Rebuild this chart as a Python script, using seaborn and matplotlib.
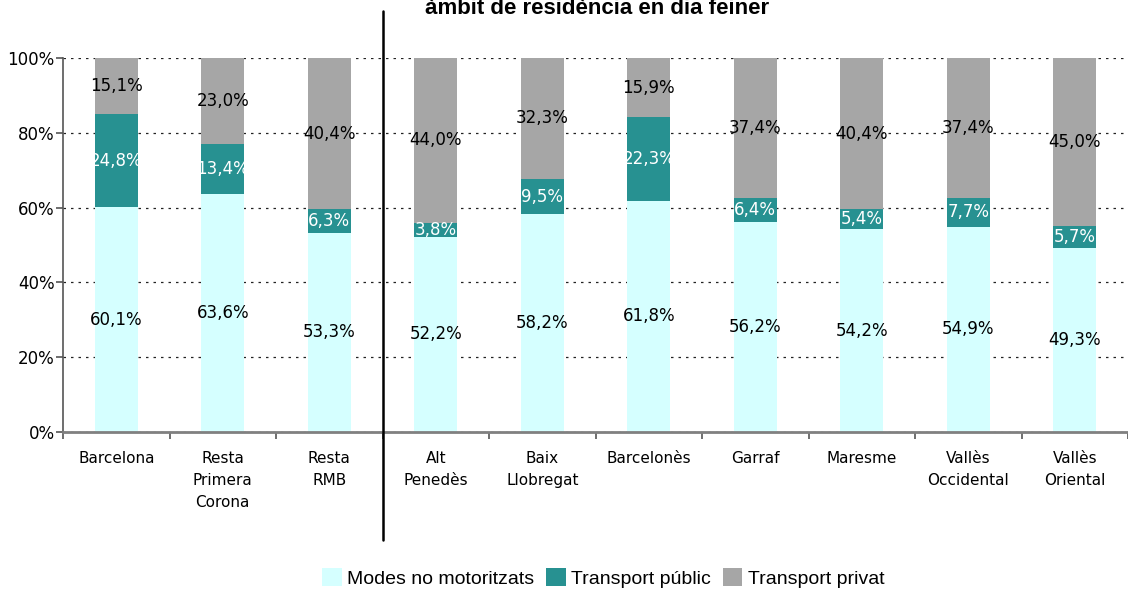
import numpy as np
import pandas as pd
import matplotlib
matplotlib.use("Agg")
import matplotlib.pyplot as plt
import seaborn as sns
from matplotlib.lines import Line2D
from matplotlib.patches import Patch

# Dades (percentatges per àmbit de residència)
ambits = ["Barcelona", "Resta\nPrimera\nCorona", "Resta\nRMB", "Alt\nPenedès",
          "Baix\nLlobregat", "Barcelonès", "Garraf", "Maresme",
          "Vallès\nOccidental", "Vallès\nOriental"]
no_motor = [60.1, 63.6, 53.3, 52.2, 58.2, 61.8, 56.2, 54.2, 54.9, 49.3]
publ = [24.8, 13.4, 6.3, 3.8, 9.5, 22.3, 6.4, 5.4, 7.7, 5.7]
privat = [15.1, 23.0, 40.4, 44.0, 32.3, 15.9, 37.4, 40.4, 37.4, 45.0]

series = ["Modes no motoritzats", "Transport públic", "Transport privat"]
colors = ["#D5FFFF", "#279191", "#A6A6A6"]
text_colors = ["black", "white", "black"]

sns.set_style("white")
plt.rcParams["font.family"] = ["DejaVu Sans"]
plt.rcParams["text.color"] = "black"
plt.rcParams["xtick.color"] = "black"
plt.rcParams["ytick.color"] = "black"

df = pd.DataFrame({"ambit": ambits, "no_motor": no_motor,
                   "publ": publ, "privat": privat})
df["c1"] = df["no_motor"]
df["c2"] = df["no_motor"] + df["publ"]
df["c3"] = df["c2"] + df["privat"]

fig = plt.figure(figsize=(11.28, 5.9), dpi=100)
ax = fig.add_axes([63 / 1128, 1 - 432 / 590, 1 - 63 / 1128, 374 / 590])

# barres apilades: es dibuixen de la més alta a la més baixa
for col, c in zip(["c3", "c2", "c1"], colors[::-1]):
    sns.barplot(data=df, x="ambit", y=col, color=c, width=0.4,
                saturation=1, ax=ax, zorder=2, linewidth=0, edgecolor="none")

# etiquetes dins de cada segment
vals = [no_motor, publ, privat]
bottoms = [np.zeros(len(ambits)), np.array(no_motor), np.array(no_motor) + np.array(publ)]
for s in range(3):
    for i in range(len(ambits)):
        v = vals[s][i]
        y = bottoms[s][i] + v / 2
        ax.text(i, y, f"{v:.1f}%".replace(".", ","), ha="center", va="center",
                fontsize=12, color=text_colors[s], zorder=3)

ax.set_ylim(0, 100)
ax.set_xlim(-0.5, len(ambits) - 0.5)
ax.set_yticks([0, 20, 40, 60, 80, 100])
ax.set_yticklabels(["0%", "20%", "40%", "60%", "80%", "100%"], fontsize=12)
ax.yaxis.grid(True, linestyle=(0, (2, 4)), color="#222222", linewidth=0.9, zorder=0)
ax.set_axisbelow(True)
ax.set_xlabel("")
ax.set_ylabel("")

ax.set_xticks(range(len(ambits)))
ax.set_xticklabels(ambits, fontsize=11, linespacing=1.55)
ax.set_xticks(np.arange(-0.5, len(ambits), 1), minor=True)
ax.tick_params(axis="x", which="major", bottom=True, length=0, pad=14)
ax.tick_params(axis="x", which="minor", bottom=True, length=5, width=1.2,
               direction="out", color="#555555")
ax.tick_params(axis="y", left=True, length=5, width=1.2, direction="out",
               color="#555555", pad=1)

for side in ["top", "right"]:
    ax.spines[side].set_visible(False)
ax.spines["left"].set_color("#555555")
ax.spines["left"].set_linewidth(1.2)
ax.spines["bottom"].set_color("#808080")
ax.spines["bottom"].set_linewidth(2)

# línia de separació vertical
ax.add_line(Line2D([2.5, 2.5], [-0.29, 1.125], transform=ax.get_xaxis_transform(),
                   color="black", linewidth=1.8, clip_on=False, zorder=5))

# títol (tallat a la part superior)
fig.text(0.529, 1 - 14 / 590, "àmbit de residència en dia feiner", ha="center",
         va="baseline", fontsize=16, fontweight="bold", family="Liberation Sans",
         color="black")

handles = [Patch(facecolor=c, edgecolor="none") for c in colors]
fig.legend(handles, series, loc="center", bbox_to_anchor=(0.535, 1 - 578 / 590),
           ncol=3, frameon=False, prop={"family": "Liberation Sans", "size": 14},
           handlelength=1.0, handleheight=1.0, handletextpad=0.3, columnspacing=0.6)

fig.savefig("out.png", dpi=100)
